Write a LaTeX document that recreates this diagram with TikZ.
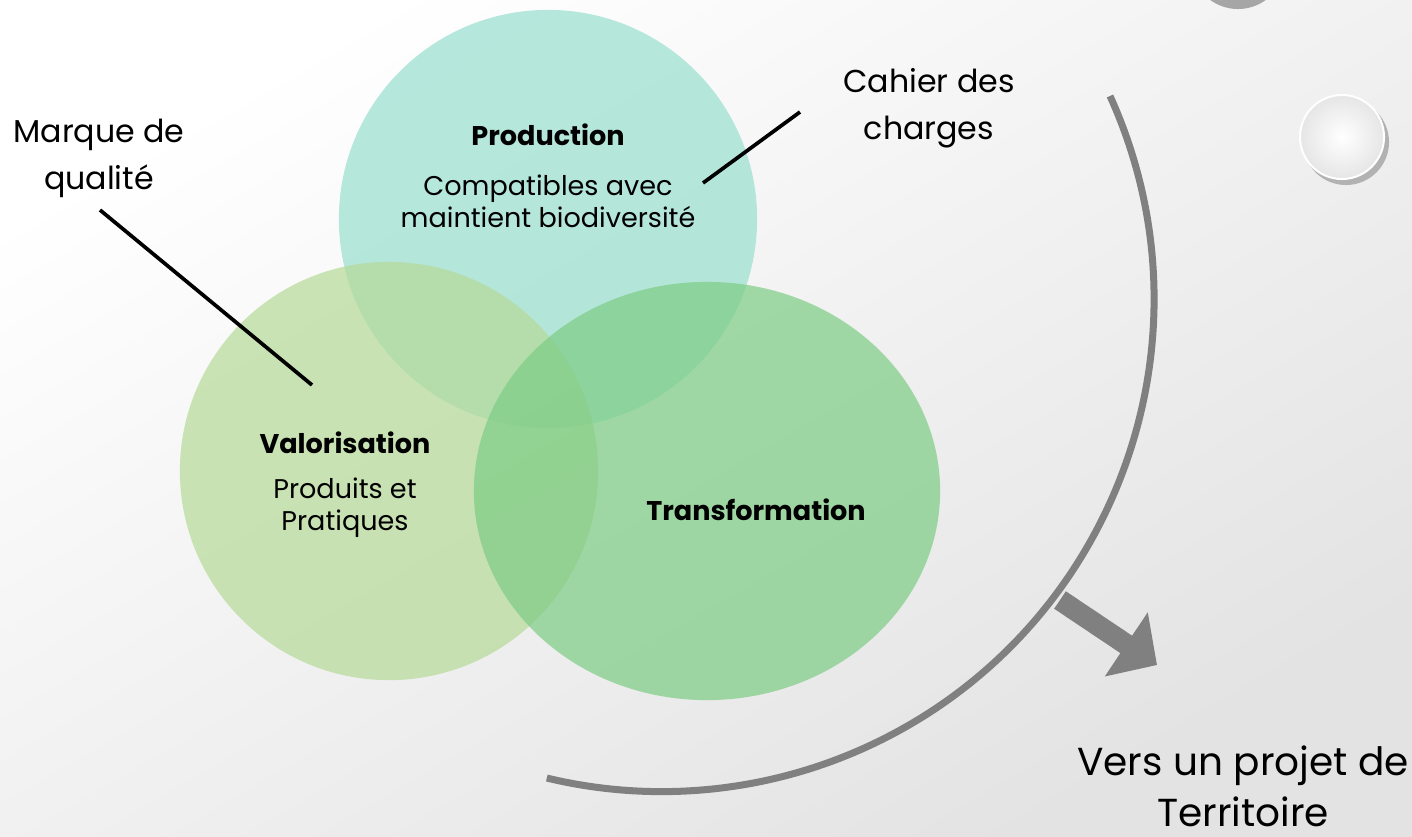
\documentclass[tikz,border=0pt]{standalone}
\usepackage{fontspec}
\setmainfont{Poppins}
\usetikzlibrary{arrows.meta,shapes.geometric}
\definecolor{prodc}{RGB}{152,223,206}
\definecolor{valc}{RGB}{181,218,152}
\definecolor{trac}{RGB}{124,204,132}
\definecolor{arcgray}{RGB}{128,128,128}
\tikzset{
  venn/.style={draw=none, fill opacity=0.7, inner sep=0pt},
  lbl/.style={align=center, font=\fontsize{9pt}{13.4pt}\selectfont, text=black},
  inlbl/.style={align=center, font=\fontsize{7.7pt}{9.1pt}\selectfont, text=black},
  ttl/.style={font=\fontsize{7.7pt}{9.1pt}\selectfont\bfseries, text=black},
  bigl/.style={align=center, font=\fontsize{11.1pt}{14.6pt}\selectfont, text=black},
  leader/.style={line width=0.037cm, black},
  arcline/.style={line width=0.07cm, arcgray},
  bigarrow/.style={line width=0.21cm, arcgray, -{Triangle[width=0.75cm,length=0.37cm]}}
}
\begin{document}
\begin{tikzpicture}[x=0.01cm,y=-0.01cm]
\useasboundingbox (0,0) rectangle (1412,836);
\shade[top color=white, bottom color=black!11, shading angle=30] (0,0) rectangle (1412,836);
% decorative buttons
\fill[black!35] (1238,-38) circle[radius=0.47cm];
\shade[inner color=white, outer color=black!8] (1236,-46) circle[radius=0.45cm];
\fill[black!30] (1346,142) circle[radius=0.43cm];
\shade[inner color=white, outer color=black!10, draw=white, line width=0.02cm] (1342,137) circle[radius=0.42cm];
% Venn circles
\node[venn, circle, fill=prodc, minimum size=4.18cm] (prod) at (548,219) {};
\node[venn, circle, fill=valc, minimum size=4.18cm] (val) at (389,471) {};
\node[venn, ellipse, fill=trac, minimum width=4.66cm, minimum height=4.18cm] (tra) at (707,491) {};
% texts
\node[ttl] (prodt) at (548,135) {Production};
\node[inlbl] (prodd) at (548,201) {Compatibles avec\\maintient biodiversité};
\node[ttl] (valt) at (345,443) {Valorisation};
\node[inlbl] (vald) at (345,508) {Produits et\\Pratiques};
\node[ttl] (trat) at (756,510) {Transformation};
\node[lbl] (marque) at (99,158) {Marque de\\qualité};
\node[lbl] (cahier) at (929,108) {Cahier des\\charges};
\node[bigl] (vers) at (1243,786) {Vers un projet de\\Territoire};
% leaders
\coordinate (m1) at (100,210);
\coordinate (m2) at (312,385);
\coordinate (c1) at (800,112);
\coordinate (c2) at (703,183);
\draw[leader] (m1) -- (m2);
\draw[leader] (c1) -- (c2);
% arc
\coordinate (arcs) at (1110,96);
\draw[arcline] (arcs) arc[start angle=24.4, end angle=-103.5, radius=4.92cm];
% arrow
\coordinate (a1) at (1060,600);
\coordinate (a2) at (1157,665);
\draw[bigarrow] (a1) -- (a2);
\end{tikzpicture}
\end{document}
